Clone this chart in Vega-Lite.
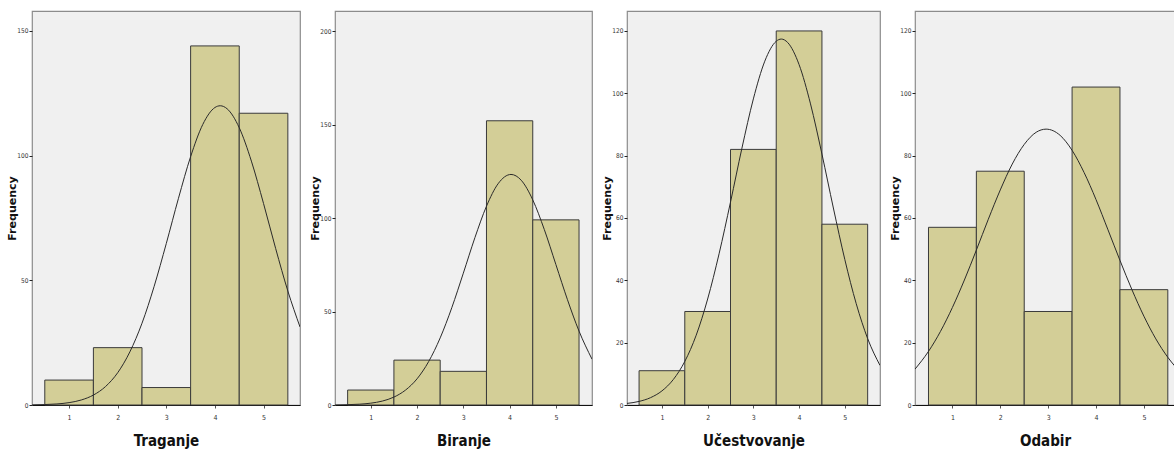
{
  "$schema": "https://vega.github.io/schema/vega-lite/v6.json",
  "padding": {"left": 5, "top": 10, "right": 0, "bottom": 0},
  "bounds": "flush",
  "spacing": 35,
  "background": "#ffffff",
  "config": {
    "view": {"fill": "#F0F0F0", "stroke": "#8c8c8c", "strokeWidth": 1.2},
    "axis": {"grid": false},
    "axisX": {
      "values": [1, 2, 3, 4, 5],
      "tickSize": 3, "tickColor": "#555", "domainColor": "#111", "domainWidth": 1.2,
      "labelFont": "DejaVu Sans Condensed", "labelFontSize": 7, "labelColor": "#333", "labelPadding": 5,
      "titleFont": "DejaVu Sans Condensed", "titleFontSize": 15, "titleFontWeight": "bold", "titleColor": "#111", "titlePadding": 13
    },
    "axisY": {
      "tickSize": 3, "tickColor": "#222", "domain": false,
      "labelFont": "DejaVu Sans Condensed", "labelFontSize": 6.5, "labelColor": "#333", "labelPadding": 1,
      "titleFont": "DejaVu Sans", "titleFontSize": 11, "titleFontWeight": "bold", "titleColor": "#111",
      "titleX": -20, "titleY": 197, "titleBaseline": "middle", "titleAngle": 270, "titleAlign": "center"
    }
  },
  "datasets": {
    "bars": [
      {"var": "Traganje", "score": 1, "lo": 0.5, "hi": 1.5, "count": 10},
      {"var": "Traganje", "score": 2, "lo": 1.5, "hi": 2.5, "count": 23},
      {"var": "Traganje", "score": 3, "lo": 2.5, "hi": 3.5, "count": 7},
      {"var": "Traganje", "score": 4, "lo": 3.5, "hi": 4.5, "count": 144},
      {"var": "Traganje", "score": 5, "lo": 4.5, "hi": 5.5, "count": 117},
      {"var": "Biranje", "score": 1, "lo": 0.5, "hi": 1.5, "count": 8},
      {"var": "Biranje", "score": 2, "lo": 1.5, "hi": 2.5, "count": 24},
      {"var": "Biranje", "score": 3, "lo": 2.5, "hi": 3.5, "count": 18},
      {"var": "Biranje", "score": 4, "lo": 3.5, "hi": 4.5, "count": 152},
      {"var": "Biranje", "score": 5, "lo": 4.5, "hi": 5.5, "count": 99},
      {"var": "Učestvovanje", "score": 1, "lo": 0.5, "hi": 1.5, "count": 11},
      {"var": "Učestvovanje", "score": 2, "lo": 1.5, "hi": 2.5, "count": 30},
      {"var": "Učestvovanje", "score": 3, "lo": 2.5, "hi": 3.5, "count": 82},
      {"var": "Učestvovanje", "score": 4, "lo": 3.5, "hi": 4.5, "count": 120},
      {"var": "Učestvovanje", "score": 5, "lo": 4.5, "hi": 5.5, "count": 58},
      {"var": "Odabir", "score": 1, "lo": 0.5, "hi": 1.5, "count": 57},
      {"var": "Odabir", "score": 2, "lo": 1.5, "hi": 2.5, "count": 75},
      {"var": "Odabir", "score": 3, "lo": 2.5, "hi": 3.5, "count": 30},
      {"var": "Odabir", "score": 4, "lo": 3.5, "hi": 4.5, "count": 102},
      {"var": "Odabir", "score": 5, "lo": 4.5, "hi": 5.5, "count": 37}
    ],
    "curve": [
      {"var": "Traganje", "x": 0.24, "y": 0.07}, {"var": "Traganje", "x": 0.5, "y": 0.18}, {"var": "Traganje", "x": 0.75, "y": 0.42},
      {"var": "Traganje", "x": 1.0, "y": 0.95}, {"var": "Traganje", "x": 1.25, "y": 2.01}, {"var": "Traganje", "x": 1.5, "y": 3.98},
      {"var": "Traganje", "x": 1.75, "y": 7.41}, {"var": "Traganje", "x": 2.0, "y": 12.95}, {"var": "Traganje", "x": 2.25, "y": 21.3},
      {"var": "Traganje", "x": 2.5, "y": 32.8}, {"var": "Traganje", "x": 2.75, "y": 47.6}, {"var": "Traganje", "x": 3.0, "y": 64.8},
      {"var": "Traganje", "x": 3.25, "y": 82.9}, {"var": "Traganje", "x": 3.5, "y": 99.6}, {"var": "Traganje", "x": 3.75, "y": 112.5},
      {"var": "Traganje", "x": 4.0, "y": 119.3}, {"var": "Traganje", "x": 4.11, "y": 120}, {"var": "Traganje", "x": 4.25, "y": 118.8},
      {"var": "Traganje", "x": 4.5, "y": 111.2}, {"var": "Traganje", "x": 4.75, "y": 97.8}, {"var": "Traganje", "x": 5.0, "y": 80.8},
      {"var": "Traganje", "x": 5.25, "y": 62.7}, {"var": "Traganje", "x": 5.5, "y": 45.7}, {"var": "Traganje", "x": 5.75, "y": 31.3},
      {"var": "Biranje", "x": 0.23, "y": 0.06}, {"var": "Biranje", "x": 0.5, "y": 0.17}, {"var": "Biranje", "x": 0.75, "y": 0.43},
      {"var": "Biranje", "x": 1.0, "y": 0.98}, {"var": "Biranje", "x": 1.25, "y": 2.1}, {"var": "Biranje", "x": 1.5, "y": 4.23},
      {"var": "Biranje", "x": 1.75, "y": 7.96}, {"var": "Biranje", "x": 2.0, "y": 14.0}, {"var": "Biranje", "x": 2.25, "y": 23.2},
      {"var": "Biranje", "x": 2.5, "y": 35.9}, {"var": "Biranje", "x": 2.75, "y": 52.0}, {"var": "Biranje", "x": 3.0, "y": 70.5},
      {"var": "Biranje", "x": 3.25, "y": 89.5}, {"var": "Biranje", "x": 3.5, "y": 106.3}, {"var": "Biranje", "x": 3.75, "y": 118.3},
      {"var": "Biranje", "x": 4.03, "y": 123.3}, {"var": "Biranje", "x": 4.25, "y": 120.2}, {"var": "Biranje", "x": 4.5, "y": 109.7},
      {"var": "Biranje", "x": 4.75, "y": 93.8}, {"var": "Biranje", "x": 5.0, "y": 75.1}, {"var": "Biranje", "x": 5.25, "y": 56.3},
      {"var": "Biranje", "x": 5.5, "y": 39.5}, {"var": "Biranje", "x": 5.78, "y": 24.5},
      {"var": "Učestvovanje", "x": 0.236, "y": 0.51}, {"var": "Učestvovanje", "x": 0.5, "y": 1.15}, {"var": "Učestvovanje", "x": 0.75, "y": 2.35},
      {"var": "Učestvovanje", "x": 1.0, "y": 4.52}, {"var": "Učestvovanje", "x": 1.25, "y": 8.19}, {"var": "Učestvovanje", "x": 1.5, "y": 13.97},
      {"var": "Učestvovanje", "x": 1.75, "y": 22.4}, {"var": "Učestvovanje", "x": 2.0, "y": 34.0}, {"var": "Učestvovanje", "x": 2.25, "y": 48.5},
      {"var": "Učestvovanje", "x": 2.5, "y": 65.1}, {"var": "Učestvovanje", "x": 2.75, "y": 82.4}, {"var": "Učestvovanje", "x": 3.0, "y": 98.2},
      {"var": "Učestvovanje", "x": 3.25, "y": 110.3}, {"var": "Učestvovanje", "x": 3.5, "y": 116.7}, {"var": "Učestvovanje", "x": 3.611, "y": 117.4},
      {"var": "Učestvovanje", "x": 3.75, "y": 116.3}, {"var": "Učestvovanje", "x": 4.0, "y": 109.2}, {"var": "Učestvovanje", "x": 4.25, "y": 96.6},
      {"var": "Učestvovanje", "x": 4.5, "y": 80.5}, {"var": "Učestvovanje", "x": 4.75, "y": 63.2}, {"var": "Učestvovanje", "x": 5.0, "y": 46.7},
      {"var": "Učestvovanje", "x": 5.25, "y": 32.5}, {"var": "Učestvovanje", "x": 5.5, "y": 21.3}, {"var": "Učestvovanje", "x": 5.77, "y": 12.7},
      {"var": "Odabir", "x": 0.218, "y": 11.5}, {"var": "Odabir", "x": 0.5, "y": 17.2}, {"var": "Odabir", "x": 0.75, "y": 23.6},
      {"var": "Odabir", "x": 1.0, "y": 31.3}, {"var": "Odabir", "x": 1.25, "y": 40.1}, {"var": "Odabir", "x": 1.5, "y": 49.7},
      {"var": "Odabir", "x": 1.75, "y": 59.6}, {"var": "Odabir", "x": 2.0, "y": 69.0}, {"var": "Odabir", "x": 2.25, "y": 77.3},
      {"var": "Odabir", "x": 2.5, "y": 83.6}, {"var": "Odabir", "x": 2.75, "y": 87.5}, {"var": "Odabir", "x": 2.957, "y": 88.5},
      {"var": "Odabir", "x": 3.25, "y": 86.5}, {"var": "Odabir", "x": 3.5, "y": 81.7}, {"var": "Odabir", "x": 3.75, "y": 74.6},
      {"var": "Odabir", "x": 4.0, "y": 65.9}, {"var": "Odabir", "x": 4.25, "y": 56.2}, {"var": "Odabir", "x": 4.5, "y": 46.4},
      {"var": "Odabir", "x": 4.75, "y": 37.0}, {"var": "Odabir", "x": 5.0, "y": 28.5}, {"var": "Odabir", "x": 5.25, "y": 21.2},
      {"var": "Odabir", "x": 5.5, "y": 15.3}, {"var": "Odabir", "x": 5.65, "y": 12.4}
    ]
  },
  "hconcat": [
    {
      "width": 268, "height": 394,
      "layer": [
        {
          "data": {"name": "bars"},
          "transform": [{"filter": "datum.var === 'Traganje'"}],
          "mark": {"type": "bar", "fill": "#D3CE97", "stroke": "#3a3a3a", "strokeWidth": 1},
          "encoding": {
            "x": {"field": "lo", "type": "quantitative", "title": "Traganje", "scale": {"domain": [0.237, 5.75], "nice": false, "zero": false}},
            "x2": {"field": "hi"},
            "y": {"field": "count", "type": "quantitative", "title": "Frequency", "scale": {"domain": [0, 158], "nice": false}, "axis": {"values": [0, 50, 100, 150]}},
            "y2": {"datum": 0}
          }
        },
        {
          "data": {"name": "curve"},
          "transform": [{"filter": "datum.var === 'Traganje'"}],
          "mark": {"type": "line", "stroke": "#2a2a2a", "strokeWidth": 1, "interpolate": "monotone", "clip": true},
          "encoding": {
            "x": {"field": "x", "type": "quantitative", "title": "Traganje"},
            "y": {"field": "y", "type": "quantitative", "title": "Frequency"}
          }
        }
      ]
    },
    {
      "width": 257, "height": 394,
      "layer": [
        {
          "data": {"name": "bars"},
          "transform": [{"filter": "datum.var === 'Biranje'"}],
          "mark": {"type": "bar", "fill": "#D3CE97", "stroke": "#3a3a3a", "strokeWidth": 1},
          "encoding": {
            "x": {"field": "lo", "type": "quantitative", "title": "Biranje", "scale": {"domain": [0.227, 5.78], "nice": false, "zero": false}},
            "x2": {"field": "hi"},
            "y": {"field": "count", "type": "quantitative", "title": "Frequency", "scale": {"domain": [0, 210.7], "nice": false}, "axis": {"values": [0, 50, 100, 150, 200]}},
            "y2": {"datum": 0}
          }
        },
        {
          "data": {"name": "curve"},
          "transform": [{"filter": "datum.var === 'Biranje'"}],
          "mark": {"type": "line", "stroke": "#2a2a2a", "strokeWidth": 1, "interpolate": "monotone", "clip": true},
          "encoding": {
            "x": {"field": "x", "type": "quantitative", "title": "Biranje"},
            "y": {"field": "y", "type": "quantitative", "title": "Frequency"}
          }
        }
      ]
    },
    {
      "width": 253, "height": 394,
      "layer": [
        {
          "data": {"name": "bars"},
          "transform": [{"filter": "datum.var === 'Učestvovanje'"}],
          "mark": {"type": "bar", "fill": "#D3CE97", "stroke": "#3a3a3a", "strokeWidth": 1},
          "encoding": {
            "x": {"field": "lo", "type": "quantitative", "title": "Učestvovanje", "scale": {"domain": [0.236, 5.77], "nice": false, "zero": false}},
            "x2": {"field": "hi"},
            "y": {"field": "count", "type": "quantitative", "title": "Frequency", "scale": {"domain": [0, 126.4], "nice": false}, "axis": {"values": [0, 20, 40, 60, 80, 100, 120]}},
            "y2": {"datum": 0}
          }
        },
        {
          "data": {"name": "curve"},
          "transform": [{"filter": "datum.var === 'Učestvovanje'"}],
          "mark": {"type": "line", "stroke": "#2a2a2a", "strokeWidth": 1, "interpolate": "monotone", "clip": true},
          "encoding": {
            "x": {"field": "x", "type": "quantitative", "title": "Učestvovanje"},
            "y": {"field": "y", "type": "quantitative", "title": "Frequency"}
          }
        }
      ]
    },
    {
      "width": 260, "height": 394,
      "layer": [
        {
          "data": {"name": "bars"},
          "transform": [{"filter": "datum.var === 'Odabir'"}],
          "mark": {"type": "bar", "fill": "#D3CE97", "stroke": "#3a3a3a", "strokeWidth": 1},
          "encoding": {
            "x": {"field": "lo", "type": "quantitative", "title": "Odabir", "scale": {"domain": [0.218, 5.65], "nice": false, "zero": false}},
            "x2": {"field": "hi"},
            "y": {"field": "count", "type": "quantitative", "title": "Frequency", "scale": {"domain": [0, 126.4], "nice": false}, "axis": {"values": [0, 20, 40, 60, 80, 100, 120]}},
            "y2": {"datum": 0}
          }
        },
        {
          "data": {"name": "curve"},
          "transform": [{"filter": "datum.var === 'Odabir'"}],
          "mark": {"type": "line", "stroke": "#2a2a2a", "strokeWidth": 1, "interpolate": "monotone", "clip": true},
          "encoding": {
            "x": {"field": "x", "type": "quantitative", "title": "Odabir"},
            "y": {"field": "y", "type": "quantitative", "title": "Frequency"}
          }
        }
      ]
    }
  ]
}
